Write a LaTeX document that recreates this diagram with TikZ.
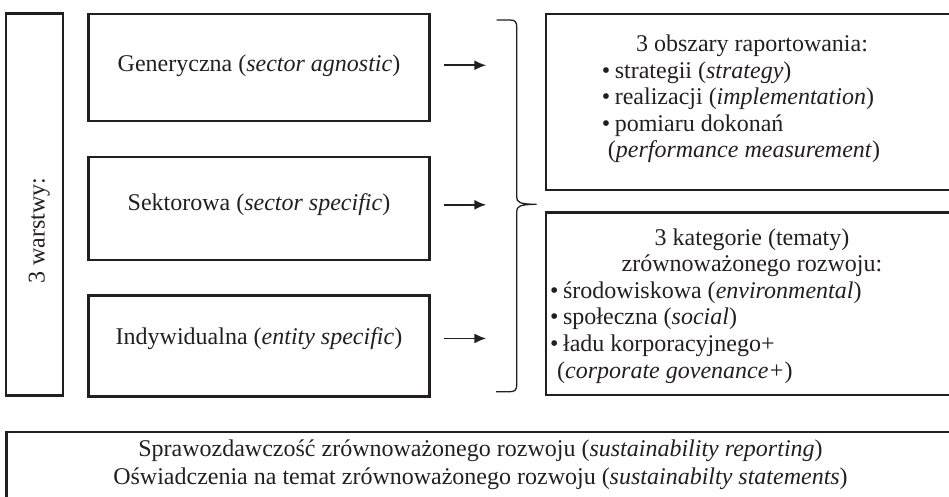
\documentclass[tikz,border=0pt]{standalone}
\usepackage{fontspec}
\setmainfont{Liberation Serif}
\usetikzlibrary{arrows.meta}
\definecolor{ink}{HTML}{231F20}
\tikzset{
  box/.style={draw=ink, line width=2.4pt, inner sep=0pt},
  arr/.style={draw=ink, line width=1.8pt, -{Latex[length=12pt,width=10pt]}},
  brc/.style={draw=ink, line width=1.3pt},
  txt/.style={text=ink, inner sep=0pt, font=\fontsize{24}{26.6}\selectfont},
}
\newcommand{\blt}{\textbullet\hspace{4.5pt}}
\begin{document}
\begin{tikzpicture}[x=1pt,y=-1pt]
\clip (0,0) rectangle (949,496);
\node[box, minimum width=57pt, minimum height=382pt] (warstwy) at (34.7,204.4) {};
\node[txt, rotate=90, anchor=base] (wtxt) at (44.5,230.5) {3 warstwy:};

\node[box, minimum width=341pt, minimum height=107pt] (gen) at (259.1,67.5) {};
\node[box, minimum width=341pt, minimum height=103pt] (sek) at (259.1,208.5) {};
\node[box, minimum width=341pt, minimum height=101pt] (ind) at (259.1,346.1) {};
\node[txt, anchor=base] (gentxt) at (259,71) {Generyczna (\textit{sector agnostic})};
\node[txt, anchor=base] (sektxt) at (259,210.7) {Sektorowa (\textit{sector specific})};
\node[txt, anchor=base] (indtxt) at (259,344.3) {Indywidualna (\textit{entity specific})};

\foreach \n in {gen,sek,ind}
  \draw[arr] (\n.east |- \n txt.center) ++(13.5,0) -- ++(42,0);

\draw[brc] (496.5,20) -- (510,20) .. controls (515,20) and (516.7,22) .. (516.7,27)
  -- (516.7,197) .. controls (516.7,202) and (519,204.3) .. (536.7,204.3)
  .. controls (519,204.3) and (516.7,206.6) .. (516.7,211.6)
  -- (516.7,384.7) .. controls (516.7,389.7) and (515,391.7) .. (510,391.7) -- (496,391.7);

\node[box, minimum width=412.3pt, minimum height=176.3pt] (obszary) at (751.85,101.85) {};
\node[box, minimum width=412.3pt, minimum height=182.5pt] (kategorie) at (751.85,303.75) {};
\node[box, minimum width=949.7pt, minimum height=72pt] (spraw) at (481.15,467.7) {};

\node[txt, anchor=base] (ob0) at (752,51.5) {3 obszary raportowania:};
\foreach \t [count=\i] in {{\blt strategii (\textit{strategy})},
    {\blt realizacji (\textit{implementation})},
    {\blt pomiaru dokonań},
    {\hspace*{6pt}(\textit{performance measurement})}}
  \node[txt, anchor=base west] (ob\i) at (601.7,{51.5+26.6*\i}) {\t};

\node[txt, anchor=base] (kat0) at (752,245) {3 kategorie (tematy)};
\node[txt, anchor=base] (kat1) at (752,271.7) {zrównoważonego rozwoju:};
\foreach \t [count=\i from 2] in {{\blt środowiskowa (\textit{environmental})},
    {\blt społeczna (\textit{social})},
    {\blt ładu korporacyjnego+},
    {\hspace*{7pt}(\textit{corporate govenance+})}}
  \node[txt, anchor=base west] (kat\i) at (550,{245+26.6*\i}) {\t};

\node[txt, anchor=base] (spraw1) at (480.5,456) {Sprawozdawczość zrównoważonego rozwoju (\textit{sustainability reporting})};
\node[txt, anchor=base] (spraw2) at (480.5,484) {Oświadczenia na temat zrównoważonego rozwoju (\textit{sustainabilty statements})};
\end{tikzpicture}
\end{document}
